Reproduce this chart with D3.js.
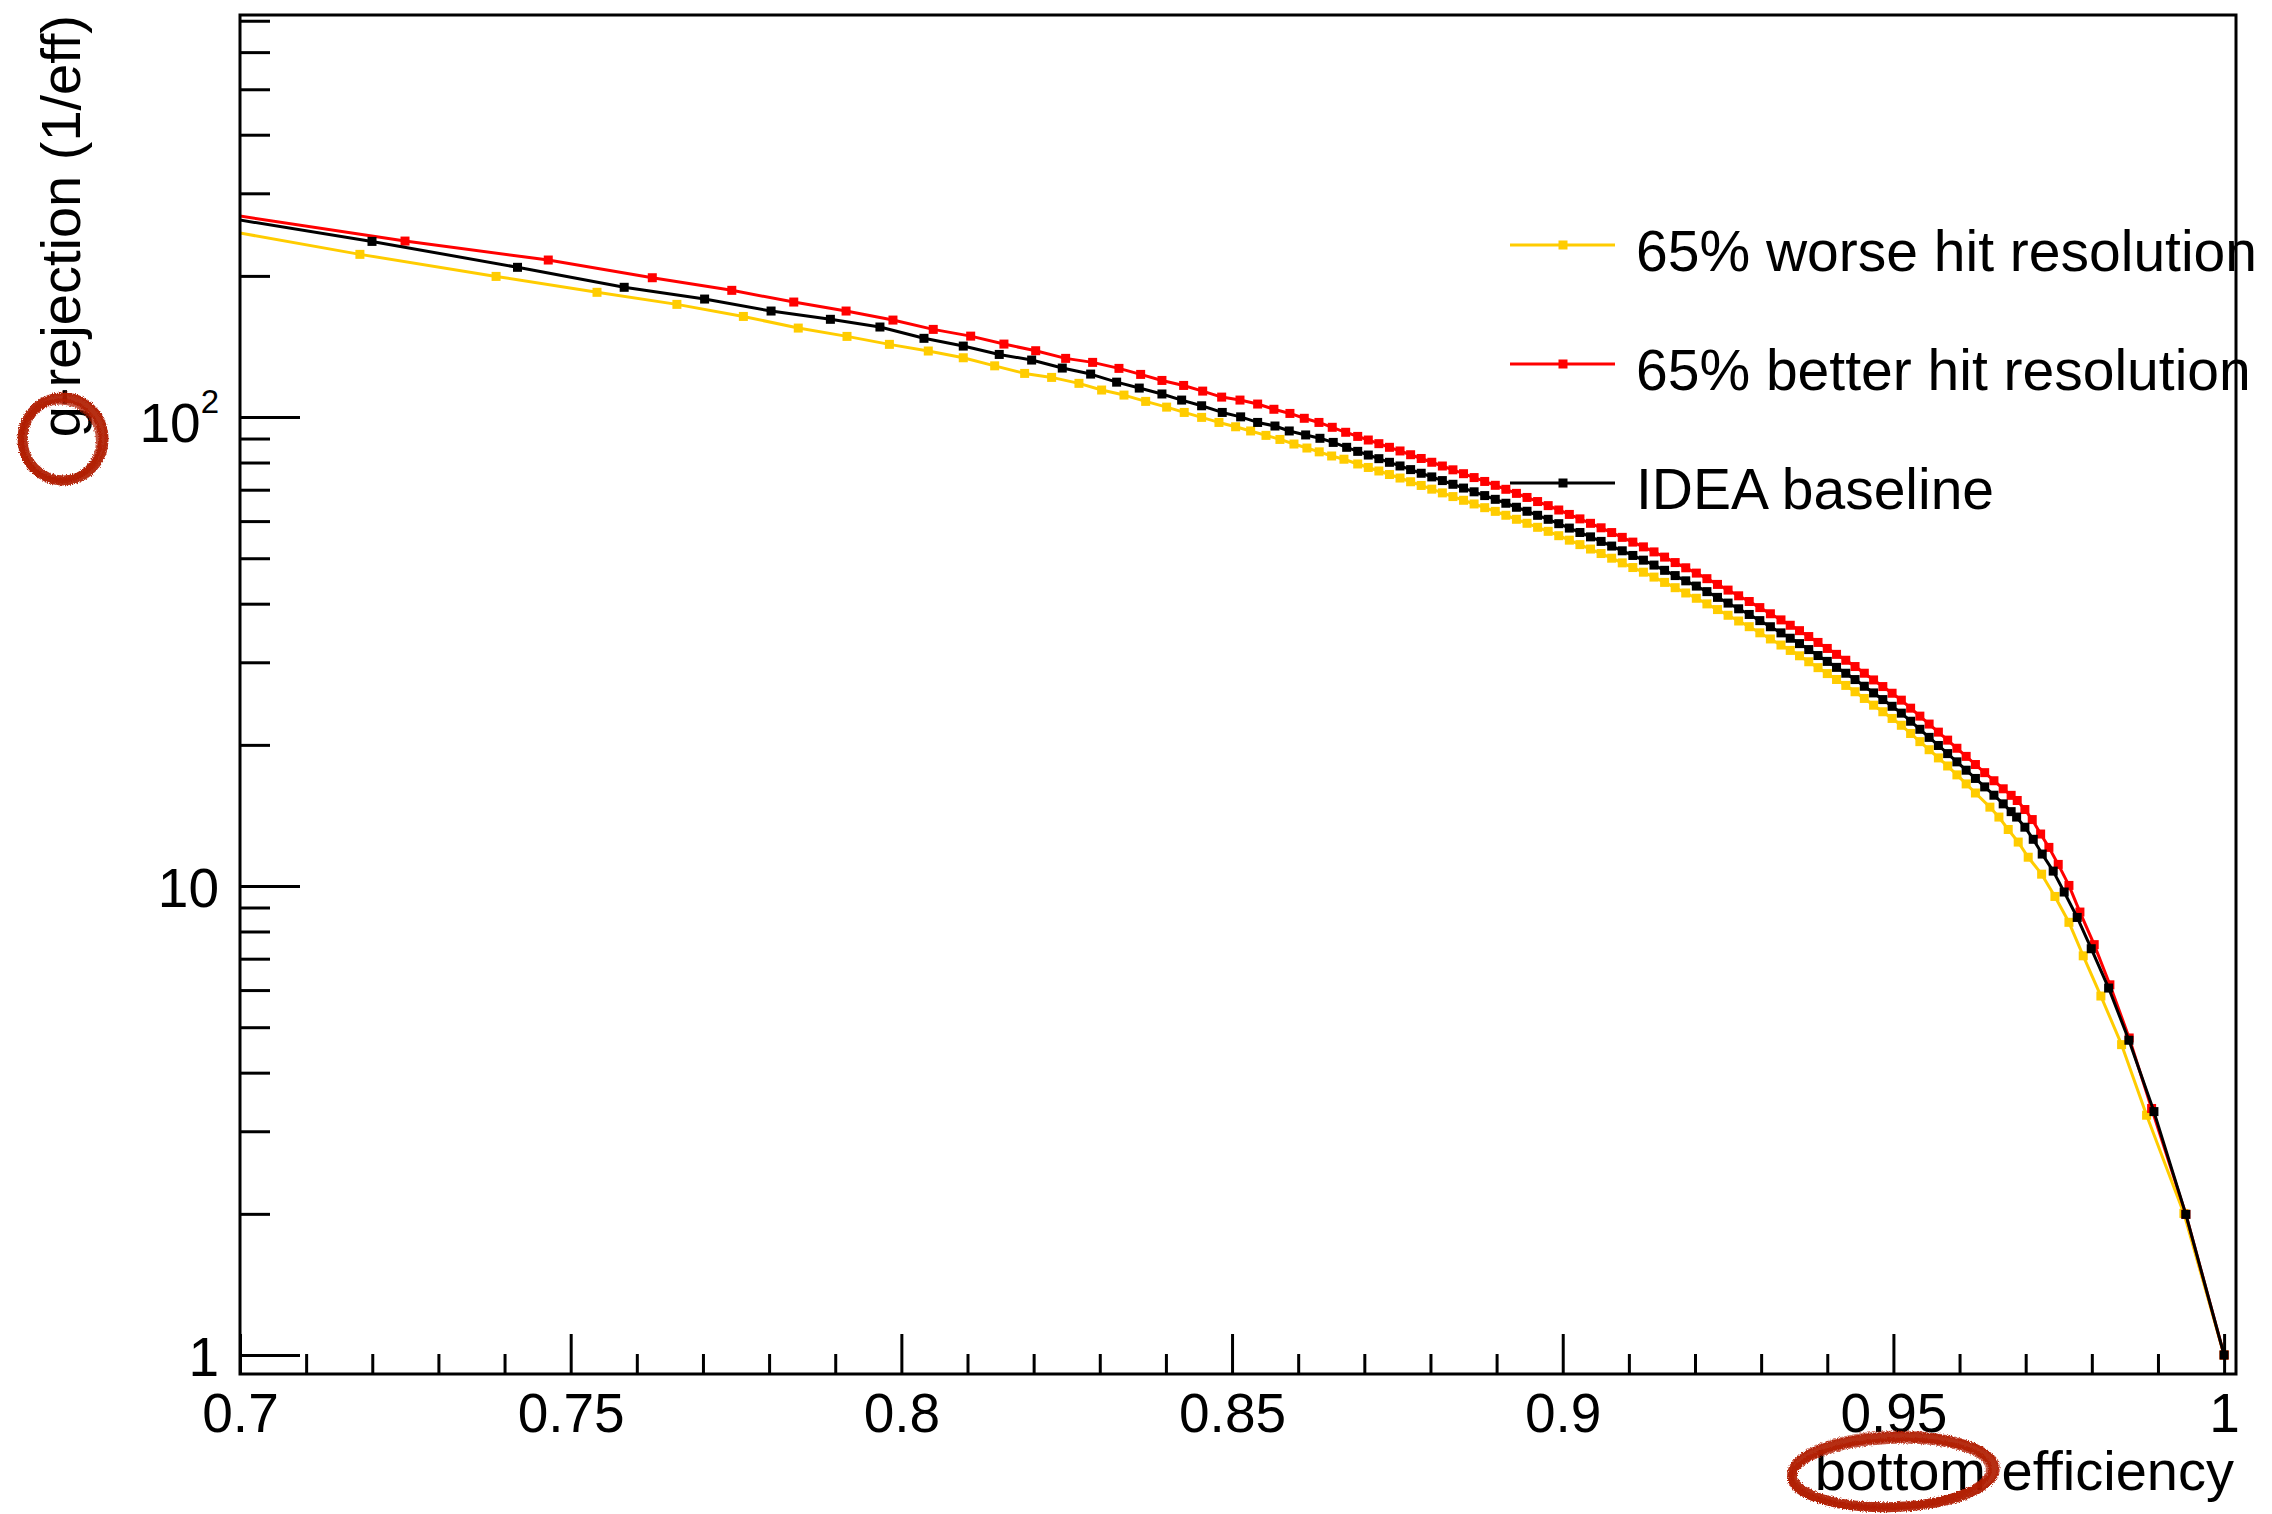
<!DOCTYPE html>
<html>
<head>
<meta charset="utf-8">
<script src="https://cdn.jsdelivr.net/npm/d3@7"></script>
<style>
  html, body { margin: 0; padding: 0; background: #fff; }
  svg { display: block; }
  text { font-family: "Liberation Sans", Arial, Helvetica, sans-serif; fill: #000; }
</style>
</head>
<body>
<svg id="chart" width="2272" height="1514"></svg>
<script>
// ---- ROC points: bottom-tagging efficiency vs. g rejection (1/eff) ----

// 65% worse hit resolution
const effWorse = [
  0.68639, 0.71813, 0.73872, 0.75398, 0.76606, 0.77611, 0.78441, 0.79178, 0.79819, 0.80407,
  0.80936, 0.81411, 0.81864, 0.82272, 0.82685, 0.83028, 0.83366, 0.83694, 0.84011, 0.84277,
  0.84540, 0.84802, 0.85054, 0.85281, 0.85513, 0.85724, 0.85936, 0.86132, 0.86318, 0.86506, 0.86692,
  0.869, 0.8706, 0.8722, 0.8738, 0.8754, 0.877, 0.8786, 0.8802, 0.8818, 0.8834,
  0.885, 0.8866, 0.8882, 0.8898, 0.8914, 0.893, 0.8946, 0.8962, 0.8978, 0.8994,
  0.901, 0.9026, 0.9042, 0.9058, 0.9074, 0.909, 0.9106, 0.9122, 0.9138, 0.9154,
  0.917, 0.9186, 0.9202, 0.9218, 0.9234, 0.925, 0.9266, 0.9282, 0.9298, 0.9314, 0.933,
  0.9344, 0.9358, 0.9372, 0.9386, 0.94, 0.9414, 0.9428, 0.9442, 0.9456, 0.947,
  0.9484, 0.9498, 0.9512, 0.9526, 0.954, 0.9554, 0.9568, 0.9582, 0.9596, 0.961, 0.9624,
  0.96459, 0.96595, 0.96736, 0.96887, 0.97038, 0.97241, 0.97442, 0.97654, 0.97870, 0.98137,
  0.98450, 0.98828, 0.99392, 1.0
];
const rejWorse = [
  267.0, 222.3, 199.5, 184.5, 173.9, 163.9, 154.8, 148.6, 142.9, 138.3,
  133.8, 128.6, 123.9, 121.5, 118.0, 114.2, 111.4, 108.0, 105.0, 102.3,
  99.85, 97.4, 95.35, 93.4, 91.4, 89.6, 87.6, 85.9, 84.3, 82.6, 81.3,
  79.43, 78.08, 76.74, 75.42, 74.13, 72.79, 71.48, 70.19, 68.92, 67.68,
  66.46, 65.27, 64.09, 62.94, 61.75, 60.54, 59.36, 58.20, 57.06, 55.85,
  54.64, 53.46, 52.31, 51.17, 50.01, 48.88, 47.77, 46.69, 45.58, 44.41,
  43.27, 42.16, 41.08, 39.96, 38.86, 37.79, 36.74, 35.73, 34.67, 33.64, 32.65,
  31.80, 30.97, 30.08, 29.22, 28.38, 27.57, 26.78, 25.96, 25.12, 24.30,
  23.53, 22.77, 22.02, 21.15, 20.32, 19.53, 18.76, 18.03, 17.26, 16.51, 15.79,
  14.73, 14.03, 13.20, 12.41, 11.52, 10.60, 9.502, 8.368, 7.099, 5.827,
  4.590, 3.246, 2.004, 1.0
];

// 65% better hit resolution
const effBetter = [
  0.68639, 0.72495, 0.74661, 0.76234, 0.77436, 0.78373, 0.79164, 0.79873, 0.80482, 0.81048,
  0.81551, 0.82031, 0.82484, 0.82892, 0.83290, 0.83618, 0.83940, 0.84268, 0.84556, 0.84843,
  0.85120, 0.85387, 0.85633, 0.85875, 0.86092, 0.86314, 0.86515, 0.86718,
  0.869, 0.8706, 0.8722, 0.8738, 0.8754, 0.877, 0.8786, 0.8802, 0.8818, 0.8834,
  0.885, 0.8866, 0.8882, 0.8898, 0.8914, 0.893, 0.8946, 0.8962, 0.8978, 0.8994,
  0.901, 0.9026, 0.9042, 0.9058, 0.9074, 0.909, 0.9106, 0.9122, 0.9138, 0.9154,
  0.917, 0.9186, 0.9202, 0.9218, 0.9234, 0.925, 0.9266, 0.9282, 0.9298, 0.9314, 0.933,
  0.9344, 0.9358, 0.9372, 0.9386, 0.94, 0.9414, 0.9428, 0.9442, 0.9456, 0.947,
  0.9484, 0.9498, 0.9512, 0.9526, 0.954, 0.9554, 0.9568, 0.9582, 0.9596, 0.961,
  0.9624, 0.9638, 0.9652, 0.9666, 0.9678,
  0.96872, 0.96988, 0.97099, 0.97226, 0.97351, 0.97492, 0.97654, 0.97820, 0.98036, 0.98273,
  0.98565, 0.98904, 0.99422, 1.0
];
const rejBetter = [
  286.8, 237.3, 216.2, 198.2, 186.3, 175.9, 168.3, 161.0, 153.8, 148.8,
  143.1, 138.5, 133.4, 130.8, 127.0, 123.3, 119.7, 116.8, 113.6, 110.3,
  108.7, 106.6, 103.9, 101.8, 99.4, 97.4, 95.1, 92.8,
  90.94, 89.34, 87.76, 86.20, 84.67, 83.12, 81.60, 80.10, 78.64, 77.18,
  75.73, 74.30, 72.90, 71.53, 70.14, 68.75, 67.39, 66.05, 64.74, 63.36,
  62.00, 60.66, 59.35, 58.06, 56.72, 55.40, 54.12, 52.87, 51.58, 50.28,
  48.95, 47.71, 46.48, 45.23, 43.97, 42.76, 41.58, 40.43, 39.24, 38.07, 36.94,
  35.98, 35.04, 34.04, 33.07, 32.11, 31.19, 30.30, 29.38, 28.43, 27.51,
  26.63, 25.77, 24.91, 23.95, 23.03, 22.15, 21.29, 20.47, 19.67, 18.90,
  18.16, 17.45, 16.77, 16.12, 15.61,
  15.22, 14.56, 13.86, 12.91, 12.09, 11.12, 10.03, 8.801, 7.500, 6.157,
  4.743, 3.355, 1.995, 1.0
];

// IDEA baseline
const effBaseline = [
  0.68639, 0.71996, 0.74196, 0.75809, 0.77025, 0.78030, 0.78927, 0.79676, 0.80342, 0.80936,
  0.81480, 0.81970, 0.82433, 0.82862, 0.83255, 0.83597, 0.83940, 0.84238, 0.84540, 0.84852,
  0.85130, 0.85387, 0.85649, 0.85865, 0.86113, 0.86329, 0.86530, 0.86733,
  0.869, 0.8706, 0.8722, 0.8738, 0.8754, 0.877, 0.8786, 0.8802, 0.8818, 0.8834,
  0.885, 0.8866, 0.8882, 0.8898, 0.8914, 0.893, 0.8946, 0.8962, 0.8978, 0.8994,
  0.901, 0.9026, 0.9042, 0.9058, 0.9074, 0.909, 0.9106, 0.9122, 0.9138, 0.9154,
  0.917, 0.9186, 0.9202, 0.9218, 0.9234, 0.925, 0.9266, 0.9282, 0.9298, 0.9314, 0.933,
  0.9344, 0.9358, 0.9372, 0.9386, 0.94, 0.9414, 0.9428, 0.9442, 0.9456, 0.947,
  0.9484, 0.9498, 0.9512, 0.9526, 0.954, 0.9554, 0.9568, 0.9582, 0.9596, 0.961,
  0.9624, 0.9638, 0.9652, 0.9666, 0.9678,
  0.96863, 0.96988, 0.97114, 0.97250, 0.97416, 0.97582, 0.97779, 0.97991, 0.98254, 0.98561,
  0.98939, 0.99422, 1.0
];
const rejBaseline = [
  282.5, 236.9, 208.6, 189.1, 178.5, 168.3, 161.6, 155.6, 147.2, 141.7,
  136.0, 132.3, 127.2, 123.5, 118.7, 115.3, 112.0, 108.7, 105.7, 102.3,
  100.1, 97.4, 95.7, 93.4, 91.6, 90.1, 88.3, 86.2,
  84.50, 82.99, 81.53, 80.08, 78.66, 77.26, 75.89, 74.54, 73.21, 71.89,
  70.57, 69.28, 68.01, 66.77, 65.50, 64.22, 62.97, 61.73, 60.53, 59.25,
  57.98, 56.74, 55.53, 54.31, 53.08, 51.86, 50.69, 49.53, 48.35, 47.12,
  45.92, 44.75, 43.61, 42.44, 41.26, 40.12, 39.01, 37.94, 36.81, 35.72, 34.66,
  33.76, 32.88, 31.93, 31.01, 30.13, 29.26, 28.43, 27.56, 26.67, 25.81,
  24.98, 24.17, 23.37, 22.46, 21.59, 20.75, 19.94, 19.16, 18.40, 17.66,
  16.96, 16.27, 15.62, 14.97, 14.41,
  14.03, 13.35, 12.58, 11.70, 10.76, 9.710, 8.571, 7.351, 6.060, 4.690,
  3.304, 1.995, 1.0
];

// ---- axes ----
const xMajorTicks = [0.7, 0.75, 0.8, 0.85, 0.9, 0.95, 1.0];
const xTickLabels = ["0.7", "0.75", "0.8", "0.85", "0.9", "0.95", "1"];
const xMinorTicks = [
  0.71, 0.72, 0.73, 0.74, 0.76, 0.77, 0.78, 0.79, 0.81, 0.82, 0.83, 0.84,
  0.86, 0.87, 0.88, 0.89, 0.91, 0.92, 0.93, 0.94, 0.96, 0.97, 0.98, 0.99
];
const yMajorTicks = [1, 10, 100];
const yMinorTicks = [2, 3, 4, 5, 6, 7, 8, 9, 20, 30, 40, 50, 60, 70, 80, 90, 200, 300, 400, 500, 600, 700];

const seriesNames = ["65% worse hit resolution", "65% better hit resolution", "IDEA baseline"];
const seriesColors = ["#ffcc00", "#ff0000", "#000000"];

const xTitle = "bottom efficiency";
const yTitle = "g-rejection (1/eff)";

// ---- layout ----
const W = 2272, H = 1514;
const frame = { left: 240, right: 2236, top: 15, bottom: 1374 };
const tickFont = 55, titleFont = 56, legendFont = 57;

const x = d3.scaleLinear().domain([0.7, 1.0018]).range([frame.left, frame.right]);
const y = d3.scaleLog().domain([0.911, 720]).range([frame.bottom, frame.top]);

const svg = d3.select("#chart");
svg.append("rect").attr("width", W).attr("height", H).attr("fill", "#fff");

const defs = svg.append("defs");
defs.append("clipPath").attr("id", "plotClip").append("rect")
  .attr("x", frame.left).attr("y", frame.top)
  .attr("width", frame.right - frame.left).attr("height", frame.bottom - frame.top);

// rough brush edge for the hand-drawn red rings
const brush = defs.append("filter").attr("id", "brush")
  .attr("x", "-20%").attr("y", "-20%").attr("width", "140%").attr("height", "140%");
brush.append("feTurbulence").attr("type", "fractalNoise").attr("baseFrequency", 0.8)
  .attr("numOctaves", 2).attr("seed", 7).attr("result", "noise");
brush.append("feDisplacementMap").attr("in", "SourceGraphic").attr("in2", "noise")
  .attr("scale", 4).attr("xChannelSelector", "R").attr("yChannelSelector", "G");

// ---- curves ----
const series = [
  { name: seriesNames[0], color: seriesColors[0], eff: effWorse, rej: rejWorse },
  { name: seriesNames[1], color: seriesColors[1], eff: effBetter, rej: rejBetter },
  { name: seriesNames[2], color: seriesColors[2], eff: effBaseline, rej: rejBaseline }
];

const line = d3.line().x(d => x(d[0])).y(d => y(d[1]));
const plot = svg.append("g").attr("clip-path", "url(#plotClip)");
const M = 9; // marker size

series.forEach(s => {
  const pts = d3.zip(s.eff, s.rej);
  const g = plot.append("g");
  g.append("path").datum(pts)
    .attr("d", line)
    .attr("fill", "none")
    .attr("stroke", s.color)
    .attr("stroke-width", 3)
    .attr("stroke-linejoin", "round");
  g.selectAll("rect").data(pts).join("rect")
    .attr("x", d => x(d[0]) - M / 2)
    .attr("y", d => y(d[1]) - M / 2)
    .attr("width", M).attr("height", M)
    .attr("fill", s.color);
});

// ---- axes (ticks pointing into the frame) ----
function styleAxis(g) {
  g.select(".domain").remove();
  g.attr("font-family", null).attr("font-size", null);
  g.selectAll(".tick line").attr("stroke", "#000").attr("stroke-width", 3);
  g.selectAll(".tick text").attr("font-size", tickFont).attr("fill", "#000");
}

svg.append("g").attr("transform", `translate(0,${frame.bottom})`)
  .call(d3.axisBottom(x).tickValues(xMinorTicks).tickSize(-20).tickSizeOuter(0).tickFormat(""))
  .call(styleAxis);
svg.append("g").attr("transform", `translate(0,${frame.bottom})`)
  .call(d3.axisBottom(x).tickValues(xMajorTicks).tickSize(-40).tickSizeOuter(0)
    .tickPadding(19).tickFormat((d, i) => xTickLabels[i]))
  .call(styleAxis);

svg.append("g").attr("transform", `translate(${frame.left},0)`)
  .call(d3.axisLeft(y).tickValues(yMinorTicks).tickSize(-30).tickSizeOuter(0).tickFormat(""))
  .call(styleAxis);
const yMajor = svg.append("g").attr("transform", `translate(${frame.left},0)`)
  .call(d3.axisLeft(y).tickValues(yMajorTicks).tickSize(-60).tickSizeOuter(0)
    .tickPadding(21).tickFormat(d => String(d)))
  .call(styleAxis);
yMajor.selectAll(".tick text").attr("dy", "0.37em");
yMajor.selectAll(".tick text").filter(d => d === 100).each(function () {
  const t = d3.select(this).text(null).attr("dy", "0.45em");
  t.append("tspan").text("10");
  t.append("tspan").attr("font-size", 33).attr("dy", -29).text("2");
});

// frame
svg.append("rect")
  .attr("x", frame.left).attr("y", frame.top)
  .attr("width", frame.right - frame.left).attr("height", frame.bottom - frame.top)
  .attr("fill", "none").attr("stroke", "#000").attr("stroke-width", 3);

// axis titles
svg.append("text")
  .attr("x", 2234).attr("y", 1490)
  .attr("text-anchor", "end").attr("font-size", titleFont)
  .text(xTitle);
svg.append("text")
  .attr("transform", "translate(80,15) rotate(-90)")
  .attr("text-anchor", "end").attr("font-size", titleFont)
  .text(yTitle);

// ---- legend ----
const legendY = [245, 364, 483];
const legend = svg.append("g");
series.forEach((s, i) => {
  const row = legend.append("g").attr("transform", `translate(0,${legendY[i]})`);
  row.append("line").attr("x1", 1510).attr("x2", 1615).attr("y1", 0).attr("y2", 0)
    .attr("stroke", s.color).attr("stroke-width", 3);
  row.append("rect").attr("x", 1563 - M / 2).attr("y", -M / 2).attr("width", M).attr("height", M)
    .attr("fill", s.color);
  row.append("text").attr("x", 1636).attr("y", 26).attr("font-size", legendFont).text(s.name);
});

// ---- hand-drawn red rings around "g" and "bottom" ----
const ringColor = "#b01b06";
const rings = svg.append("g").attr("filter", "url(#brush)").attr("fill", "none").attr("stroke", ringColor);
// ring around the "g"
rings.append("ellipse").attr("cx", 63).attr("cy", 439).attr("rx", 40.5).attr("ry", 41.5)
  .attr("stroke-width", 10).attr("opacity", 0.92);
rings.append("ellipse").attr("cx", 60).attr("cy", 441).attr("rx", 39).attr("ry", 39.5)
  .attr("stroke-width", 6).attr("opacity", 0.75);
rings.append("ellipse").attr("cx", 64).attr("cy", 437).attr("rx", 42).attr("ry", 43)
  .attr("stroke-width", 2.5).attr("opacity", 0.55);
// ellipse around "bottom"
rings.append("ellipse").attr("cx", 1893).attr("cy", 1472).attr("rx", 101).attr("ry", 35)
  .attr("transform", "rotate(-2 1893 1472)")
  .attr("stroke-width", 10).attr("opacity", 0.92);
rings.append("ellipse").attr("cx", 1890).attr("cy", 1474).attr("rx", 99).attr("ry", 33)
  .attr("transform", "rotate(-3 1890 1474)")
  .attr("stroke-width", 6).attr("opacity", 0.75);
rings.append("ellipse").attr("cx", 1895).attr("cy", 1470).attr("rx", 104).attr("ry", 38)
  .attr("transform", "rotate(-1 1895 1470)")
  .attr("stroke-width", 2.5).attr("opacity", 0.55);
</script>
</body>
</html>
